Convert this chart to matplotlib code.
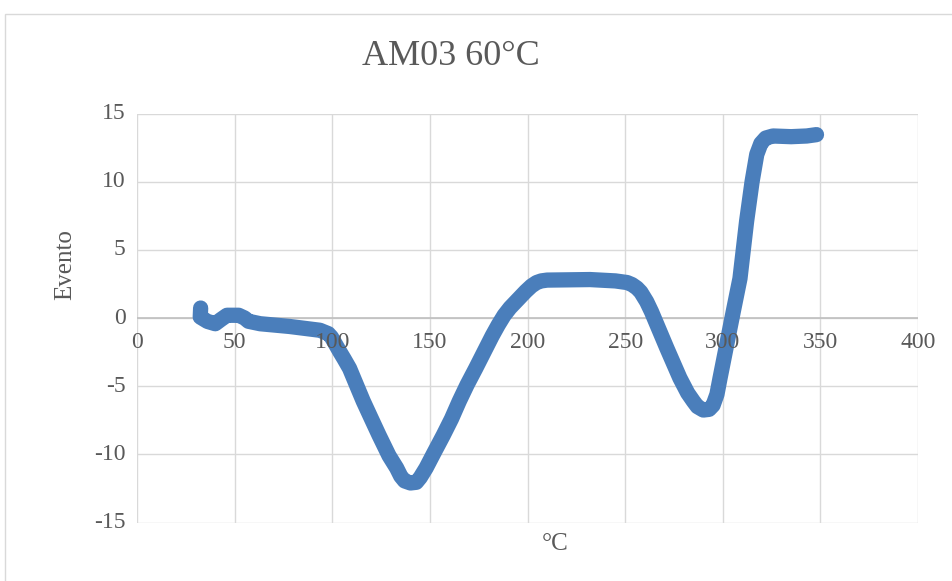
"""Recreate AM03 60°C Excel-style scatter chart."""

import matplotlib.pyplot as plt
from matplotlib.patches import Rectangle

# data
temperatura = [32.5, 32.3, 36, 40, 43, 46, 52, 55, 57, 63, 78, 93.6, 97.9,
               99.5, 101.5, 103.9, 106, 108.8, 112, 115.8, 120, 123.9, 129,
               132.9, 135, 137, 140, 143, 145, 148, 152, 156.8, 161, 165,
               169, 173.4, 178, 181.9, 185, 188, 191, 194, 199, 202, 204.6,
               207, 210, 232, 245, 251, 253.5, 256, 258, 261, 263.5, 266,
               271.3, 278, 282, 284.9, 287, 290, 293, 295, 297, 298.6, 302,
               305.4, 308.8, 312.2, 315, 317.4, 319.5, 322, 325.7, 335, 343,
               348]
evento = [0.73, 0.07, -0.25, -0.42, -0.1, 0.2, 0.2, 0.0, -0.24, -0.42, -0.62,
          -0.9, -1.15, -1.4, -1.9, -2.5, -3.0, -3.7, -4.8, -6.1, -7.4, -8.6,
          -10.1, -11.0, -11.6, -11.95, -12.1, -12.05, -11.7, -11.0, -9.9,
          -8.6, -7.4, -6.1, -4.9, -3.7, -2.4, -1.3, -0.5, 0.2, 0.75, 1.2,
          1.95, 2.35, 2.6, 2.72, 2.78, 2.82, 2.72, 2.6, 2.45, 2.2, 1.9, 1.2,
          0.45, -0.4, -2.2, -4.4, -5.5, -6.1, -6.5, -6.75, -6.7, -6.4, -5.6,
          -4.4, -1.95, 0.5, 2.9, 7.1, 10.0, 12.0, 12.8, 13.2, 13.35, 13.3,
          13.35, 13.45]

x_ticks = [0, 50, 100, 150, 200, 250, 300, 350, 400]
y_ticks = [-15, -10, -5, 0, 5, 10, 15]

serif = ["Liberation Serif", "DejaVu Serif"]
text_color = "#595959"
grid_color = "#d9d9d9"

fig = plt.figure(figsize=(9.53, 5.81), dpi=100)
fig.patches.append(Rectangle((5 / 953, -0.1), 1.2, 1 - 14 / 581 + 0.1,
                             transform=fig.transFigure, fill=False,
                             edgecolor=grid_color, linewidth=1))

ax = fig.add_axes([137.2 / 953, 1 - 522.5 / 581, 780.8 / 953, 409 / 581])
ax.set_xlim(0, 400)
ax.set_ylim(-15, 15)

for x in x_ticks:
    ax.axvline(x, color=grid_color, linewidth=1, zorder=0)
for y in y_ticks:
    ax.axhline(y, color=grid_color, linewidth=1, zorder=0)
ax.axhline(0, color="#bfbfbf", linewidth=1.2, zorder=1)

for s in ax.spines.values():
    s.set_visible(False)
ax.set_xticks([])
ax.set_yticks([])

ax.plot(temperatura, evento, color="#4a7ebb", linewidth=11,
        solid_capstyle="round", solid_joinstyle="round", zorder=3)

# y tick labels left of the plot
for y in y_ticks:
    ax.text(-6, y, str(y), ha="right", va="center", fontsize=17,
            family=serif, color=text_color)
# x tick labels hang under the horizontal axis at y=0
for x in x_ticks:
    ax.annotate(str(x), (x, 0), xytext=(0, -10), textcoords="offset points",
                ha="center", va="top", fontsize=17, family=serif,
                color=text_color)

fig.text(0.473, 0.903, "AM03 60°C", ha="center", va="center", fontsize=26,
         family=serif, color=text_color)
fig.text(0.068, 0.545, "Evento", ha="center", va="center", rotation=90,
         fontsize=18, family=serif, color=text_color)
fig.text(0.583, 0.063, "°C", ha="center", va="center", fontsize=18,
         family=serif, color=text_color)

fig.savefig("out.png", dpi=100)
plt.close(fig)
